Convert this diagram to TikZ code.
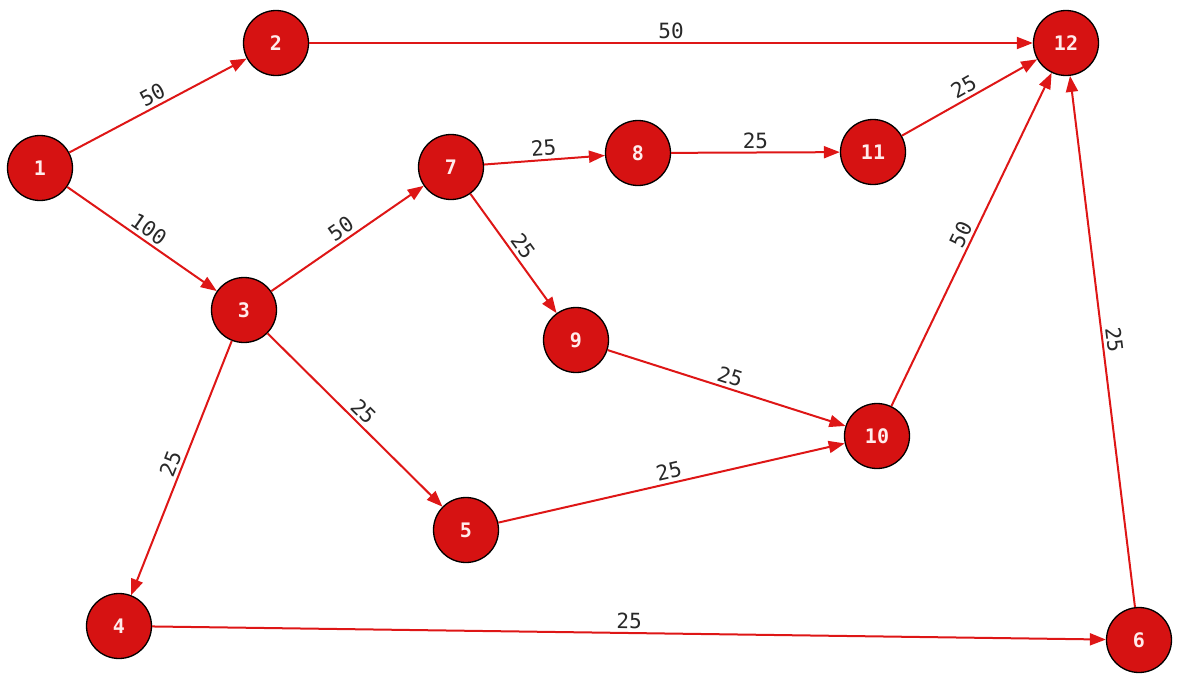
\documentclass[tikz,border=0pt]{standalone}
\usepackage{fontspec}
\setmonofont{DejaVu Sans Mono}
\usetikzlibrary{arrows.meta}
\definecolor{nodered}{RGB}{214,18,18}
\definecolor{edgered}{RGB}{222,22,22}
\definecolor{lbl}{RGB}{40,40,40}
\definecolor{ntext}{RGB}{255,236,236}
\tikzset{
  vert/.style={circle, draw=black, line width=1.3pt, fill=nodered, minimum size=65pt, inner sep=0pt,
    text=ntext, font=\fontsize{20}{23}\selectfont\ttfamily\bfseries},
  edge/.style={draw=edgered, line width=2pt, -{Triangle[length=16pt,width=12pt]}},
  wt/.style={midway, above, sloped, inner sep=3pt, text=lbl, font=\fontsize{21}{24}\selectfont\ttfamily}
}
\begin{document}
\begin{tikzpicture}[x=1pt,y=-1pt]
\useasboundingbox (0,0) rectangle (1179,673);
\node[vert] (n1) at (40,168) {1};
\node[vert] (n2) at (276,43) {2};
\node[vert] (n3) at (244,310) {3};
\node[vert] (n4) at (119,626) {4};
\node[vert] (n5) at (466,530) {5};
\node[vert] (n6) at (1139,640) {6};
\node[vert] (n7) at (451,167) {7};
\node[vert] (n8) at (638,153) {8};
\node[vert] (n9) at (576,340) {9};
\node[vert] (n10) at (877,436) {10};
\node[vert] (n11) at (873,152) {11};
\node[vert] (n12) at (1066,43) {12};
\draw[edge] (n1) -- node[wt] {50} (n2);
\draw[edge] (n1) -- node[wt] {100} (n3);
\draw[edge] (n2) -- node[wt] {50} (n12);
\draw[edge] (n3) -- node[wt] {50} (n7);
\draw[edge] (n3) -- node[wt] {25} (n5);
\draw[edge] (n3) -- node[wt] {25} (n4);
\draw[edge] (n7) -- node[wt] {25} (n8);
\draw[edge] (n7) -- node[wt] {25} (n9);
\draw[edge] (n8) -- node[wt] {25} (n11);
\draw[edge] (n11) -- node[wt] {25} (n12);
\draw[edge] (n9) -- node[wt] {25} (n10);
\draw[edge] (n5) -- node[wt] {25} (n10);
\draw[edge] (n10) -- node[wt] {50} (n12);
\draw[edge] (n4) -- node[wt] {25} (n6);
\draw[edge] (n6) -- node[wt] {25} (n12);
\end{tikzpicture}
\end{document}
